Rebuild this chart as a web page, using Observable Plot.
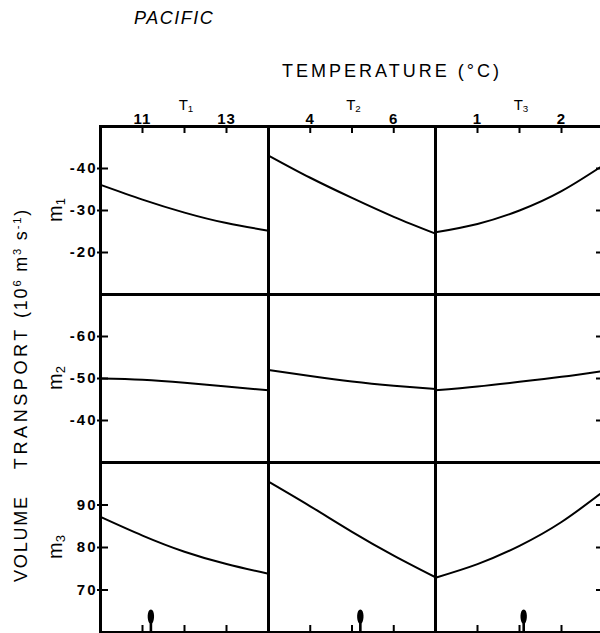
<!DOCTYPE html>
<html>
<head>
<meta charset="utf-8">
<script src="https://cdn.jsdelivr.net/npm/d3@7"></script>
<script src="https://cdn.jsdelivr.net/npm/@observablehq/plot@0.6"></script>
<style>
html, body { margin: 0; padding: 0; background: #fff; }
#chart { position: relative; width: 600px; height: 633px; overflow: hidden;
  font-family: "Liberation Sans", Arial, sans-serif; color: #000; }
.lbl { position: absolute; white-space: nowrap; line-height: 1; }
.cell { position: absolute; }
.cell svg { max-width: none !important; display: block; }
g[aria-label="y-axis tick label"] text { letter-spacing: 2px; }
g[aria-label="x-axis tick label"] text { letter-spacing: 1px; }
sub { font-size: 65%; vertical-align: -0.25em; }
sup { font-size: 62%; vertical-align: 0.55em; }
</style>
</head>
<body>
<div id="chart"></div>
<script>
// ---- data ----
const title = "PACIFIC";
const xTitle = "TEMPERATURE (°C)";
const columnNames = ["1", "2", "3"];          // T subscripts
const rowNames = ["1", "2", "3"];             // m subscripts
const yTitleWords = ["VOLUME", "TRANSPORT"];
const yTitleUnit = "(10<sup>6</sup> m<sup>3</sup> s<sup>-1</sup>)";

const t1Values = [10, 11, 12, 13, 14];
const t2Values = [3, 4, 5, 6, 7];
const t3Values = [0.5, 1.0, 1.5, 2.0, 2.5];

const m1T1 = [-36.1, -32.6, -29.5, -27.0, -25.2];
const m1T2 = [-43.1, -37.8, -33.0, -28.5, -24.5];
const m1T3 = [-24.8, -26.8, -30.0, -34.6, -40.8];
const m2T1 = [-50.0, -49.7, -49.0, -48.1, -47.2];
const m2T2 = [-52.0, -50.6, -49.3, -48.3, -47.5];
const m2T3 = [-47.2, -48.1, -49.2, -50.4, -51.8];
const m3T1 = [87.2, 82.8, 79.0, 76.1, 73.8];
const m3T2 = [95.5, 89.7, 83.7, 78.1, 73.0];
const m3T3 = [72.9, 76.1, 80.4, 86.0, 93.2];

const t1Domain = [10, 14];
const t2Domain = [3, 7];
const t3Domain = [0.5, 2.5];
const m1Domain = [-10, -50];
const m2Domain = [-30, -70];
const m3Domain = [60, 100];

const t1Ticks = [11, 12, 13];
const t2Ticks = [4, 5, 6];
const t3Ticks = [1, 1.5, 2];
const t1TickLabels = [11, 13];
const t2TickLabels = [4, 6];
const t3TickLabels = [1, 2];
const m1Ticks = [-40, -30, -20];
const m2Ticks = [-60, -50, -40];
const m3Ticks = [90, 80, 70];

const markerTemps = [11.2, 5.2, 1.55];

// ---- layout ----
const colX = [100, 268, 435], colW = [168, 167, 168];
const rowY = [126, 294, 462], rowH = [168, 168, 170];

const temps = [t1Values, t2Values, t3Values];
const xDomains = [t1Domain, t2Domain, t3Domain];
const yDomains = [m1Domain, m2Domain, m3Domain];
const xTicks = [t1Ticks, t2Ticks, t3Ticks];
const xTickLabels = [t1TickLabels, t2TickLabels, t3TickLabels];
const yTicks = [m1Ticks, m2Ticks, m3Ticks];
const series = [[m1T1, m1T2, m1T3], [m2T1, m2T2, m2T3], [m3T1, m3T2, m3T3]];

const drop = {
  draw(ctx) {
    ctx.moveTo(0, -23);
    ctx.bezierCurveTo(4, -23, 4, -12, 1.3, -9);
    ctx.lineTo(1.3, 0);
    ctx.lineTo(-1.3, 0);
    ctx.lineTo(-1.3, -9);
    ctx.bezierCurveTo(-4, -12, -4, -23, 0, -23);
    ctx.closePath();
  }
};

const chart = document.getElementById("chart");
const fmt = d => String(d);

for (let r = 0; r < 3; r++) {
  for (let c = 0; c < 3; c++) {
    const w = colW[c], h = rowH[r];
    const data = temps[c].map((t, i) => ({t, v: series[r][c][i]}));
    const marks = [
      Plot.line(data, {x: "t", y: "v", curve: "natural", stroke: "black", strokeWidth: 2})
    ];
    if (r === 0) {
      marks.push(Plot.tickX(xTicks[c], {x: d => d, insetBottom: h - 7, strokeWidth: 2}));
      marks.push(Plot.axisX({anchor: "top", ticks: xTickLabels[c], tickSize: 0, tickPadding: 3,
        tickFormat: fmt, fontSize: 15, label: null}));
    }
    if (r === 2) {
      marks.push(Plot.tickX(xTicks[c], {x: d => d, insetTop: h - 7, strokeWidth: 2}));
      marks.push(Plot.dot([markerTemps[c]], {x: d => d, frameAnchor: "bottom", symbol: drop,
        fill: "black", stroke: "none"}));
    }
    if (c === 0) {
      marks.push(Plot.tickY(yTicks[r], {y: d => d, insetRight: w - 8, strokeWidth: 2}));
      marks.push(Plot.axisY({anchor: "left", ticks: yTicks[r], tickSize: 3, tickPadding: 0,
        strokeWidth: 2, tickFormat: fmt, fontSize: 15, label: null}));
    }
    if (c === 2) {
      marks.push(Plot.tickY(yTicks[r], {y: d => d, insetLeft: w - 7, strokeWidth: 2}));
    }
    marks.push(Plot.frame({stroke: "black", strokeWidth: 3}));
    const svg = Plot.plot({
      width: w, height: h, margin: 0,
      x: {domain: xDomains[c], axis: null, label: null},
      y: {domain: yDomains[r], axis: null, label: null},
      style: {background: "none", overflow: "visible", fontFamily: "'Liberation Sans', Arial, sans-serif",
        fontWeight: "bold", color: "black", maxWidth: "none"},
      marks
    });
    const cell = document.createElement("div");
    cell.className = "cell";
    cell.style.left = colX[c] + "px";
    cell.style.top = rowY[r] + "px";
    cell.style.width = w + "px";
    cell.style.height = h + "px";
    cell.appendChild(svg);
    chart.appendChild(cell);
  }
}

function label(html, css) {
  const d = document.createElement("div");
  d.className = "lbl";
  d.innerHTML = html;
  Object.assign(d.style, css);
  chart.appendChild(d);
  return d;
}

label(title, {left: "134px", top: "9px", fontSize: "18px", fontStyle: "italic", letterSpacing: "1.5px"});
label(xTitle, {left: "392px", top: "62px", fontSize: "18px", letterSpacing: "3px", transform: "translateX(-50%)"});
for (let c = 0; c < 3; c++) {
  label("T<sub>" + columnNames[c] + "</sub>", {left: (colX[c] + colW[c] / 2 + 2) + "px", top: "97px",
    fontSize: "15px", transform: "translateX(-50%)"});
}
for (let r = 0; r < 3; r++) {
  label("m<sub>" + rowNames[r] + "</sub>", {left: "56px", top: (rowY[r] + rowH[r] / 2) + "px",
    fontSize: "20px", transform: "translate(-50%,-50%) rotate(-90deg)"});
}
label('<span style="letter-spacing:1.8px;margin-right:26px">' + yTitleWords[0] +
  '</span><span style="letter-spacing:3.6px;margin-right:8px">' + yTitleWords[1] +
  '</span><span style="letter-spacing:1.8px">' + yTitleUnit + '</span>',
  {left: "21px", top: "395px", fontSize: "18px",
   transform: "translate(-50%,-50%) rotate(-90deg)"});
</script>
</body>
</html>
